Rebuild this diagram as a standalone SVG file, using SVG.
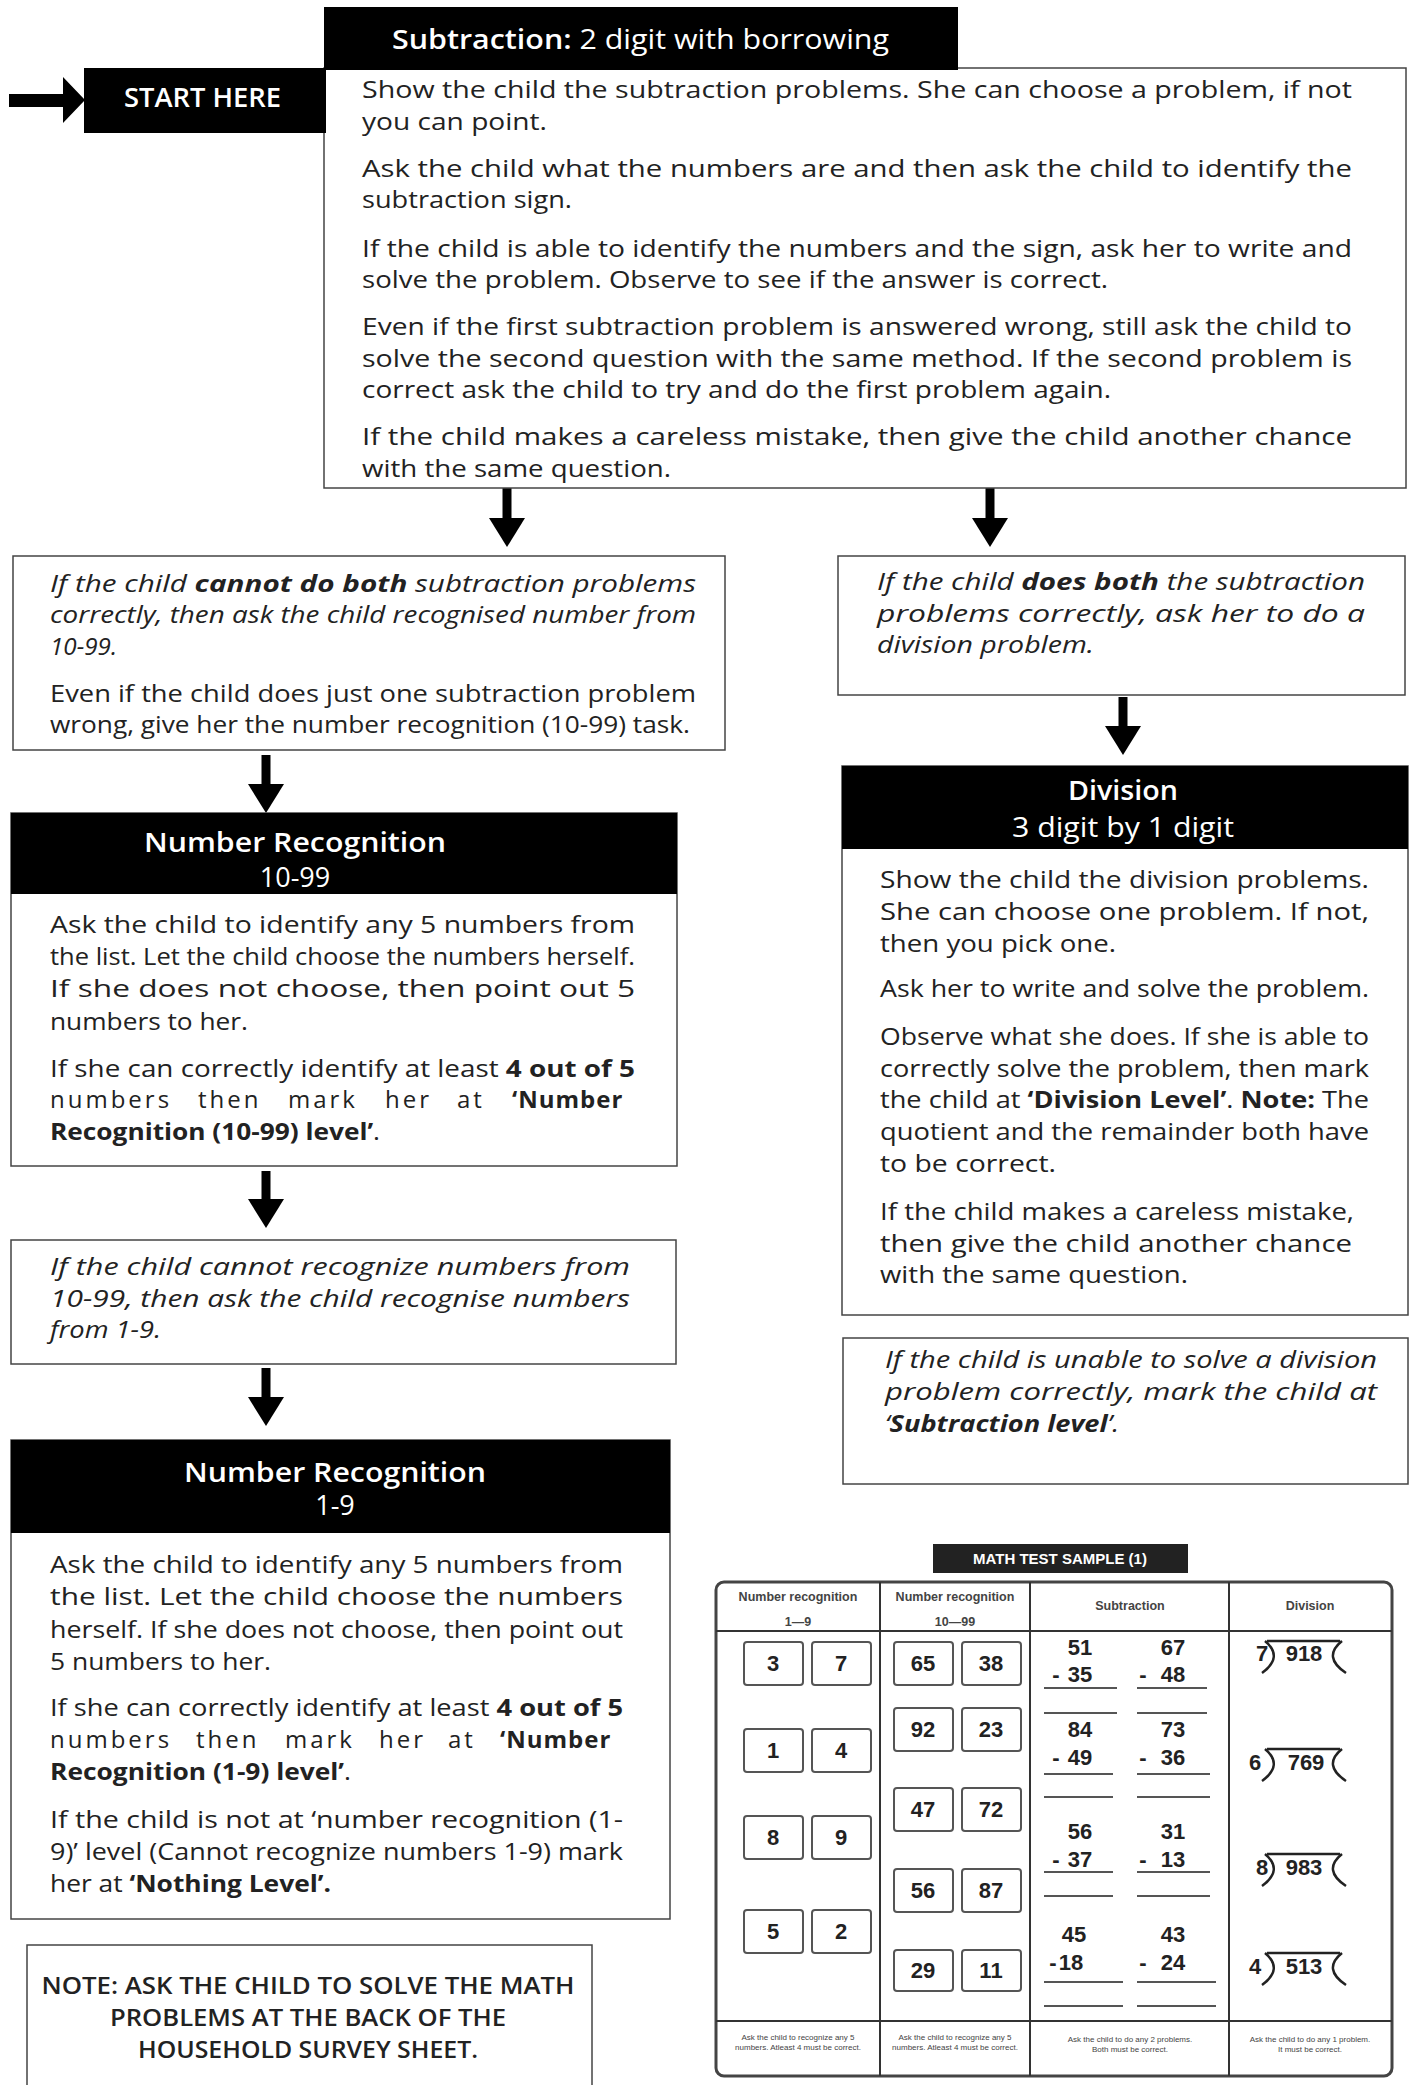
<svg xmlns="http://www.w3.org/2000/svg" width="1410" height="2085" viewBox="0 0 1410 2085">
<style>
.box{fill:#fff;stroke:#444;stroke-width:1.5}
.hdr{fill:#000}
.t{font-family:"Open Sans","Liberation Sans",sans-serif;font-size:24px;fill:#222}
.i{font-style:italic}
.b{font-weight:700}
.ls{letter-spacing:3px}
.ht{font-family:"Open Sans","Liberation Sans",sans-serif;font-size:27px;fill:#fff}
.note{font-family:"Open Sans","Liberation Sans",sans-serif;font-size:24px;font-weight:600;fill:#222;text-anchor:middle}
.conn{stroke:#000;stroke-width:9;fill:none}
.tb{fill:none;stroke:#333;stroke-width:2}
.nb{fill:#fff;stroke:#555;stroke-width:2}
.n{font-family:"Liberation Sans",Arial,sans-serif;font-weight:700;font-size:22px;fill:#222;text-anchor:middle}
.th{font-family:"Liberation Sans",Arial,sans-serif;font-weight:700;font-size:12.5px;fill:#444;text-anchor:middle}
.tf{font-family:"Liberation Sans",Arial,sans-serif;font-size:8px;fill:#444;text-anchor:middle}
.ul{stroke:#555;stroke-width:2}
.dv{fill:none;stroke:#222;stroke-width:2.5}
</style>
<defs>
<marker id="ah" markerUnits="userSpaceOnUse" markerWidth="29" markerHeight="36" viewBox="0 0 29 36" refX="0" refY="18" orient="auto">
<path d="M0,0 L29,18 L0,36 z" fill="#000"/>
</marker>
</defs>

<g id="connectors">
<polygon points="9,94 63,94 63,77 85,100 63,123 63,107 9,107" fill="#000"/>
<line class="conn" x1="507" y1="488" x2="507" y2="518" marker-end="url(#ah)"/>
<line class="conn" x1="990" y1="488" x2="990" y2="518" marker-end="url(#ah)"/>
<line class="conn" x1="266" y1="755" x2="266" y2="784" marker-end="url(#ah)"/>
<line class="conn" x1="1123" y1="697" x2="1123" y2="726" marker-end="url(#ah)"/>
<line class="conn" x1="266" y1="1171" x2="266" y2="1199" marker-end="url(#ah)"/>
<line class="conn" x1="266" y1="1368" x2="266" y2="1397" marker-end="url(#ah)"/>
</g>

<g id="subtraction">
<rect class="box" x="324" y="68" width="1082" height="420"/>
<rect class="hdr" x="324" y="7" width="634" height="63"/>
<text class="ht" x="392" y="49" font-size="28" textLength="497" lengthAdjust="spacingAndGlyphs"><tspan font-weight="600">Subtraction:</tspan> 2 digit with borrowing</text>
<text class="t" x="362" y="98" textLength="990" lengthAdjust="spacingAndGlyphs">Show the child the subtraction problems. She can choose a problem, if not</text>
<text class="t" x="362" y="130" textLength="185" lengthAdjust="spacingAndGlyphs">you can point.</text>
<text class="t" x="362" y="177" textLength="990" lengthAdjust="spacingAndGlyphs">Ask the child what the numbers are and then ask the child to identify the</text>
<text class="t" x="362" y="208" textLength="210" lengthAdjust="spacingAndGlyphs">subtraction sign.</text>
<text class="t" x="362" y="257" textLength="990" lengthAdjust="spacingAndGlyphs">If the child is able to identify the numbers and the sign, ask her to write and</text>
<text class="t" x="362" y="288" textLength="746" lengthAdjust="spacingAndGlyphs">solve the problem. Observe to see if the answer is correct.</text>
<text class="t" x="362" y="335" textLength="990" lengthAdjust="spacingAndGlyphs">Even if the first subtraction problem is answered wrong, still ask the child to</text>
<text class="t" x="362" y="367" textLength="990" lengthAdjust="spacingAndGlyphs">solve the second question with the same method. If the second problem is</text>
<text class="t" x="362" y="398" textLength="749" lengthAdjust="spacingAndGlyphs">correct ask the child to try and do the first problem again.</text>
<text class="t" x="362" y="445" textLength="990" lengthAdjust="spacingAndGlyphs">If the child makes a careless mistake, then give the child another chance</text>
<text class="t" x="362" y="477" textLength="309" lengthAdjust="spacingAndGlyphs">with the same question.</text>
</g>

<g id="start">
<rect class="hdr" x="84" y="68" width="242" height="65"/>
<text class="ht" x="124" y="107" font-size="24" font-weight="600" textLength="157" lengthAdjust="spacingAndGlyphs">START HERE</text>
</g>

<g id="cannot-both">
<rect class="box" x="13" y="556" width="712" height="194"/>
<text class="t i" x="50" y="592" textLength="646" lengthAdjust="spacingAndGlyphs">If the child <tspan class="b">cannot do both</tspan> subtraction problems</text>
<text class="t i" x="50" y="623" textLength="646" lengthAdjust="spacingAndGlyphs">correctly, then ask the child recognised number from</text>
<text class="t i" x="50" y="655" textLength="67" lengthAdjust="spacingAndGlyphs">10-99.</text>
<text class="t" x="50" y="702" textLength="646" lengthAdjust="spacingAndGlyphs">Even if the child does just one subtraction problem</text>
<text class="t" x="50" y="733" textLength="640" lengthAdjust="spacingAndGlyphs">wrong, give her the number recognition (10-99) task.</text>
</g>

<g id="nr-10-99">
<rect class="box" x="11" y="813" width="666" height="353"/>
<rect class="hdr" x="11" y="813" width="666" height="81"/>
<text class="ht" x="295" y="852" text-anchor="middle" font-weight="600" textLength="302" lengthAdjust="spacingAndGlyphs">Number Recognition</text>
<text class="ht" x="295" y="887" text-anchor="middle" font-size="25">10-99</text>
<text class="t" x="50" y="933" textLength="585" lengthAdjust="spacingAndGlyphs">Ask the child to identify any 5 numbers from</text>
<text class="t" x="50" y="965" textLength="585" lengthAdjust="spacingAndGlyphs">the list. Let the child choose the numbers herself.</text>
<text class="t" x="50" y="997" textLength="585" lengthAdjust="spacingAndGlyphs">If she does not choose, then point out 5</text>
<text class="t" x="50" y="1030" textLength="198" lengthAdjust="spacingAndGlyphs">numbers to her.</text>
<text class="t" x="50" y="1077" textLength="585" lengthAdjust="spacingAndGlyphs">If she can correctly identify at least <tspan class="b">4 out of 5</tspan></text>
<text class="t" y="1108"><tspan class="ls" x="50">numbers</tspan><tspan class="ls" x="198">then</tspan><tspan class="ls" x="288">mark</tspan><tspan class="ls" x="385">her</tspan><tspan class="ls" x="457">at</tspan><tspan x="512" class="b" letter-spacing="1">‘Number</tspan></text>
<text class="t" x="50" y="1140" textLength="330" lengthAdjust="spacingAndGlyphs"><tspan class="b">Recognition (10-99) level’</tspan>.</text>
</g>

<g id="cannot-10-99">
<rect class="box" x="11" y="1240" width="665" height="124"/>
<text class="t i" x="50" y="1275" textLength="580" lengthAdjust="spacingAndGlyphs">If the child cannot recognize numbers from</text>
<text class="t i" x="50" y="1307" textLength="580" lengthAdjust="spacingAndGlyphs">10-99, then ask the child recognise numbers</text>
<text class="t i" x="50" y="1338" textLength="111" lengthAdjust="spacingAndGlyphs">from 1-9.</text>
</g>

<g id="nr-1-9">
<rect class="box" x="11" y="1440" width="659" height="479"/>
<rect class="hdr" x="11" y="1440" width="659" height="93"/>
<text class="ht" x="335" y="1482" text-anchor="middle" font-weight="600" textLength="302" lengthAdjust="spacingAndGlyphs">Number Recognition</text>
<text class="ht" x="335" y="1515" text-anchor="middle" font-size="25">1-9</text>
<text class="t" x="50" y="1573" textLength="573" lengthAdjust="spacingAndGlyphs">Ask the child to identify any 5 numbers from</text>
<text class="t" x="50" y="1605" textLength="573" lengthAdjust="spacingAndGlyphs">the list. Let the child choose the numbers</text>
<text class="t" x="50" y="1638" textLength="573" lengthAdjust="spacingAndGlyphs">herself. If she does not choose, then point out</text>
<text class="t" x="50" y="1670" textLength="221" lengthAdjust="spacingAndGlyphs">5 numbers to her.</text>
<text class="t" x="50" y="1716" textLength="573" lengthAdjust="spacingAndGlyphs">If she can correctly identify at least <tspan class="b">4 out of 5</tspan></text>
<text class="t" y="1748"><tspan class="ls" x="50">numbers</tspan><tspan class="ls" x="196">then</tspan><tspan class="ls" x="285">mark</tspan><tspan class="ls" x="379">her</tspan><tspan class="ls" x="448">at</tspan><tspan x="500" class="b" letter-spacing="1">‘Number</tspan></text>
<text class="t" x="50" y="1780" textLength="301" lengthAdjust="spacingAndGlyphs"><tspan class="b">Recognition (1-9) level’</tspan>.</text>
<text class="t" x="50" y="1828" textLength="573" lengthAdjust="spacingAndGlyphs">If the child is not at ‘number recognition (1-</text>
<text class="t" x="50" y="1860" textLength="573" lengthAdjust="spacingAndGlyphs">9)’ level (Cannot recognize numbers 1-9) mark</text>
<text class="t" x="50" y="1892" textLength="281" lengthAdjust="spacingAndGlyphs">her at <tspan class="b">‘Nothing Level’.</tspan></text>
</g>

<g id="note">
<rect class="box" x="27" y="1945" width="565" height="160"/>
<text class="note" x="308" y="1994" textLength="533" lengthAdjust="spacingAndGlyphs">NOTE: ASK THE CHILD TO SOLVE THE MATH</text>
<text class="note" x="308" y="2026" textLength="396" lengthAdjust="spacingAndGlyphs">PROBLEMS AT THE BACK OF THE</text>
<text class="note" x="308" y="2058" textLength="340" lengthAdjust="spacingAndGlyphs">HOUSEHOLD SURVEY SHEET.</text>
</g>

<g id="does-both">
<rect class="box" x="838" y="556" width="567" height="139"/>
<text class="t i" x="877" y="590" textLength="488" lengthAdjust="spacingAndGlyphs">If the child <tspan class="b">does both</tspan> the subtraction</text>
<text class="t i" x="877" y="622" textLength="488" lengthAdjust="spacingAndGlyphs">problems correctly, ask her to do a</text>
<text class="t i" x="877" y="653" textLength="217" lengthAdjust="spacingAndGlyphs">division problem.</text>
</g>

<g id="division">
<rect class="box" x="842" y="766" width="566" height="549"/>
<rect class="hdr" x="842" y="766" width="566" height="83"/>
<text class="ht" x="1123" y="800" text-anchor="middle" font-weight="600" textLength="110" lengthAdjust="spacingAndGlyphs">Division</text>
<text class="ht" x="1123" y="837" text-anchor="middle" textLength="222" lengthAdjust="spacingAndGlyphs">3 digit by 1 digit</text>
<text class="t" x="880" y="888" textLength="489" lengthAdjust="spacingAndGlyphs">Show the child the division problems.</text>
<text class="t" x="880" y="920" textLength="489" lengthAdjust="spacingAndGlyphs">She can choose one problem. If not,</text>
<text class="t" x="880" y="952" textLength="236" lengthAdjust="spacingAndGlyphs">then you pick one.</text>
<text class="t" x="880" y="997" textLength="489" lengthAdjust="spacingAndGlyphs">Ask her to write and solve the problem.</text>
<text class="t" x="880" y="1045" textLength="489" lengthAdjust="spacingAndGlyphs">Observe what she does. If she is able to</text>
<text class="t" x="880" y="1077" textLength="489" lengthAdjust="spacingAndGlyphs">correctly solve the problem, then mark</text>
<text class="t" x="880" y="1108" textLength="489" lengthAdjust="spacingAndGlyphs">the child at <tspan class="b">‘Division Level’</tspan>. <tspan class="b">Note:</tspan> The</text>
<text class="t" x="880" y="1140" textLength="489" lengthAdjust="spacingAndGlyphs">quotient and the remainder both have</text>
<text class="t" x="880" y="1172" textLength="176" lengthAdjust="spacingAndGlyphs">to be correct.</text>
<text class="t" x="880" y="1220" textLength="474" lengthAdjust="spacingAndGlyphs">If the child makes a careless mistake,</text>
<text class="t" x="880" y="1252" textLength="472" lengthAdjust="spacingAndGlyphs">then give the child another chance</text>
<text class="t" x="880" y="1283" textLength="308" lengthAdjust="spacingAndGlyphs">with the same question.</text>
</g>

<g id="unable-division">
<rect class="box" x="843" y="1338" width="565" height="146"/>
<text class="t i" x="885" y="1368" textLength="492" lengthAdjust="spacingAndGlyphs">If the child is unable to solve a division</text>
<text class="t i" x="885" y="1400" textLength="492" lengthAdjust="spacingAndGlyphs">problem correctly, mark the child at</text>
<text class="t i" x="885" y="1432" textLength="234" lengthAdjust="spacingAndGlyphs">‘<tspan class="b">Subtraction level</tspan>’.</text>
</g>

<g id="math-test-sample">
<rect x="933" y="1544" width="255" height="29" fill="#222"/>
<text x="1060" y="1564" font-family="Liberation Sans, Arial, sans-serif" font-weight="700" font-size="15" fill="#fff" text-anchor="middle">MATH TEST SAMPLE (1)</text>
<rect x="716" y="1582" width="676" height="494" rx="8" fill="#fff" stroke="#444" stroke-width="3"/>
<line class="tb" x1="880" y1="1582" x2="880" y2="2076"/>
<line class="tb" x1="1030" y1="1582" x2="1030" y2="2076"/>
<line class="tb" x1="1229" y1="1582" x2="1229" y2="2076"/>
<line class="tb" x1="716" y1="1631" x2="1392" y2="1631"/>
<line class="tb" x1="716" y1="2021" x2="1392" y2="2021"/>
<text class="th" x="798" y="1601">Number recognition</text>
<text class="th" x="798" y="1626">1—9</text>
<text class="th" x="955" y="1601">Number recognition</text>
<text class="th" x="955" y="1626">10—99</text>
<text class="th" x="1130" y="1610">Subtraction</text>
<text class="th" x="1310" y="1610">Division</text>

<rect class="nb" x="744" y="1642" width="59" height="43" rx="3"/><rect class="nb" x="812" y="1642" width="59" height="43" rx="3"/>
<rect class="nb" x="744" y="1729" width="59" height="43" rx="3"/><rect class="nb" x="812" y="1729" width="59" height="43" rx="3"/>
<rect class="nb" x="744" y="1816" width="59" height="43" rx="3"/><rect class="nb" x="812" y="1816" width="59" height="43" rx="3"/>
<rect class="nb" x="744" y="1910" width="59" height="43" rx="3"/><rect class="nb" x="812" y="1910" width="59" height="43" rx="3"/>
<text class="n" x="773" y="1671">3</text><text class="n" x="841" y="1671">7</text>
<text class="n" x="773" y="1758">1</text><text class="n" x="841" y="1758">4</text>
<text class="n" x="773" y="1845">8</text><text class="n" x="841" y="1845">9</text>
<text class="n" x="773" y="1939">5</text><text class="n" x="841" y="1939">2</text>

<rect class="nb" x="894" y="1642" width="59" height="43" rx="3"/><rect class="nb" x="962" y="1642" width="59" height="43" rx="3"/>
<rect class="nb" x="894" y="1708" width="59" height="43" rx="3"/><rect class="nb" x="962" y="1708" width="59" height="43" rx="3"/>
<rect class="nb" x="894" y="1788" width="59" height="43" rx="3"/><rect class="nb" x="962" y="1788" width="59" height="43" rx="3"/>
<rect class="nb" x="894" y="1869" width="59" height="43" rx="3"/><rect class="nb" x="962" y="1869" width="59" height="43" rx="3"/>
<rect class="nb" x="894" y="1950" width="59" height="41" rx="3"/><rect class="nb" x="962" y="1950" width="59" height="41" rx="3"/>
<text class="n" x="923" y="1671">65</text><text class="n" x="991" y="1671">38</text>
<text class="n" x="923" y="1737">92</text><text class="n" x="991" y="1737">23</text>
<text class="n" x="923" y="1817">47</text><text class="n" x="991" y="1817">72</text>
<text class="n" x="923" y="1898">56</text><text class="n" x="991" y="1898">87</text>
<text class="n" x="923" y="1978">29</text><text class="n" x="991" y="1978">11</text>

<text class="n" x="1080" y="1655">51</text><text class="n" x="1056" y="1682">-</text><text class="n" x="1080" y="1682">35</text>
<text class="n" x="1173" y="1655">67</text><text class="n" x="1143" y="1682">-</text><text class="n" x="1173" y="1682">48</text>
<line class="ul" x1="1044" y1="1688" x2="1117" y2="1688"/><line class="ul" x1="1137" y1="1688" x2="1207" y2="1688"/>
<line class="ul" x1="1044" y1="1713" x2="1117" y2="1713"/><line class="ul" x1="1137" y1="1713" x2="1207" y2="1713"/>

<text class="n" x="1080" y="1737">84</text><text class="n" x="1056" y="1765">-</text><text class="n" x="1080" y="1765">49</text>
<text class="n" x="1173" y="1737">73</text><text class="n" x="1143" y="1765">-</text><text class="n" x="1173" y="1765">36</text>
<line class="ul" x1="1044" y1="1774" x2="1113" y2="1774"/><line class="ul" x1="1137" y1="1774" x2="1210" y2="1774"/>
<line class="ul" x1="1044" y1="1797" x2="1113" y2="1797"/><line class="ul" x1="1137" y1="1797" x2="1210" y2="1797"/>

<text class="n" x="1080" y="1839">56</text><text class="n" x="1056" y="1867">-</text><text class="n" x="1080" y="1867">37</text>
<text class="n" x="1173" y="1839">31</text><text class="n" x="1143" y="1867">-</text><text class="n" x="1173" y="1867">13</text>
<line class="ul" x1="1044" y1="1872" x2="1113" y2="1872"/><line class="ul" x1="1137" y1="1872" x2="1210" y2="1872"/>
<line class="ul" x1="1044" y1="1896" x2="1113" y2="1896"/><line class="ul" x1="1137" y1="1896" x2="1210" y2="1896"/>

<text class="n" x="1074" y="1942">45</text><text class="n" x="1053" y="1970">-</text><text class="n" x="1071" y="1970">18</text>
<text class="n" x="1173" y="1942">43</text><text class="n" x="1143" y="1970">-</text><text class="n" x="1173" y="1970">24</text>
<line class="ul" x1="1044" y1="1982" x2="1123" y2="1982"/><line class="ul" x1="1137" y1="1982" x2="1216" y2="1982"/>
<line class="ul" x1="1044" y1="2006" x2="1123" y2="2006"/><line class="ul" x1="1137" y1="2006" x2="1216" y2="2006"/>

<text class="n" x="1262" y="1661">7</text>
<path class="dv" d="M1265,1641 Q1284,1657 1262,1673 M1267,1641 L1340,1641 M1342,1641 Q1322,1657 1346,1673"/>
<text class="n" x="1304" y="1661">918</text>
<text class="n" x="1255" y="1770">6</text>
<path class="dv" d="M1265,1749 Q1284,1765 1262,1781 M1267,1749 L1340,1749 M1342,1749 Q1322,1765 1346,1781"/>
<text class="n" x="1306" y="1770">769</text>
<text class="n" x="1262" y="1875">8</text>
<path class="dv" d="M1265,1854 Q1284,1870 1262,1886 M1267,1854 L1340,1854 M1342,1854 Q1322,1870 1346,1886"/>
<text class="n" x="1304" y="1875">983</text>
<text class="n" x="1255" y="1974">4</text>
<path class="dv" d="M1265,1953 Q1284,1969 1262,1985 M1267,1953 L1340,1953 M1342,1953 Q1322,1969 1346,1985"/>
<text class="n" x="1304" y="1974">513</text>

<text class="tf" x="798" y="2040">Ask the child to recognize any 5</text>
<text class="tf" x="798" y="2050">numbers. Atleast 4 must be correct.</text>
<text class="tf" x="955" y="2040">Ask the child to recognize any 5</text>
<text class="tf" x="955" y="2050">numbers. Atleast 4 must be correct.</text>
<text class="tf" x="1130" y="2042">Ask the child to do any 2 problems.</text>
<text class="tf" x="1130" y="2052">Both must be correct.</text>
<text class="tf" x="1310" y="2042">Ask the child to do any 1 problem.</text>
<text class="tf" x="1310" y="2052">It must be correct.</text>
</g>
</svg>
